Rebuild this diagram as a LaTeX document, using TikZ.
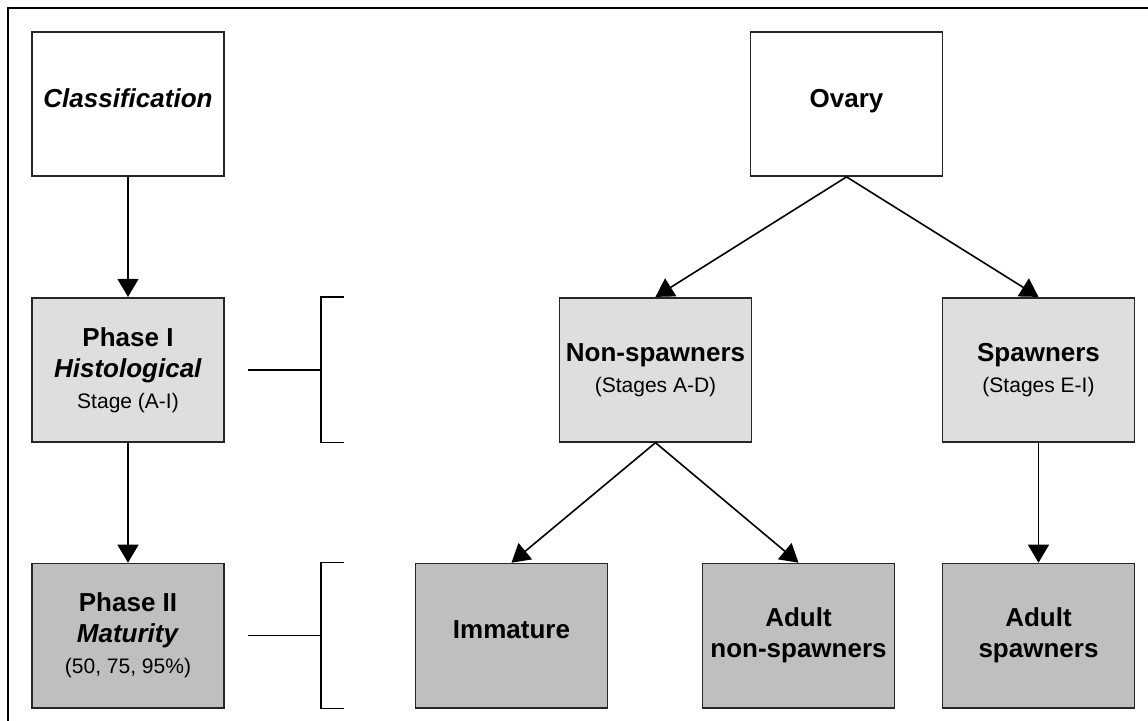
\documentclass[tikz,border=0pt]{standalone}
\usepackage{fontspec}
\setmainfont{Liberation Sans}
\usetikzlibrary{arrows.meta, positioning}

\newcommand{\subtext}[1]{{\fontsize{21}{28}\selectfont\mdseries #1}}

\begin{document}
\begin{tikzpicture}[
    x=1pt, y=1pt,
    node distance=120pt,
    box/.style={rectangle, draw=black!85, line width=1.8pt, minimum width=192pt, minimum height=144pt, inner sep=0pt, align=center, font=\fontsize{26}{31}\selectfont\bfseries},
    oneline/.style={text depth=12pt},
    phaseone/.style={box, fill=black!13},
    phasetwo/.style={box, fill=black!25},
    arrow/.style={-{Triangle[length=18pt, width=21pt]}, line width=1.6pt},
    link/.style={line width=1.6pt}
]
\useasboundingbox (0,0) rectangle (1148,720);
\clip (0,0) rectangle (1148,720);
\draw[line width=1.8pt] (8,712) rectangle (1170,-20);

% left column
\node[box, oneline] (classif) at (128,616) {\textit{Classification}};
\node[phaseone, below=of classif] (phase1) {Phase I\\\textit{Histological}\\\subtext{Stage (A-I)}};
\node[phasetwo, below=of phase1] (phase2) {Phase II\\\textit{Maturity}\\\subtext{(50, 75, 95\%)}};

% ovary tree
\node[box, oneline] (ovary) at (846.5,616) {Ovary};
\node[phaseone, below=of ovary, xshift=-191pt] (nonspawn) {Non-spawners\\\subtext{(Stages A-D)}};
\node[phaseone, below=of ovary, xshift=192pt] (spawn) {Spawners\\\subtext{(Stages E-I)}};
\node[phasetwo, oneline, below=of nonspawn, xshift=-144pt] (immature) {Immature};
\node[phasetwo, below=of nonspawn, xshift=143pt] (adultnon) {Adult\\non-spawners};
\node[phasetwo, below=of spawn] (adultspawn) {Adult\\spawners};

\draw[arrow] (classif) -- (phase1);
\draw[arrow] (phase1) -- (phase2);
\draw[arrow] (ovary.south) -- (nonspawn.north);
\draw[arrow] (ovary.south) -- (spawn.north);
\draw[arrow] (nonspawn.south) -- (immature.north);
\draw[arrow] (nonspawn.south) -- (adultnon.north);
\draw[arrow] (spawn) -- (adultspawn);

% brackets
\foreach \ph in {phase1, phase2} {
  \draw[link] ([xshift=23pt]\ph.east) -- ([xshift=96pt]\ph.east);
  \draw[link] ([xshift=119pt]\ph.north east) -- ([xshift=96pt]\ph.north east)
    -- ([xshift=96pt]\ph.south east) -- ([xshift=119pt]\ph.south east);
}

\end{tikzpicture}
\end{document}
